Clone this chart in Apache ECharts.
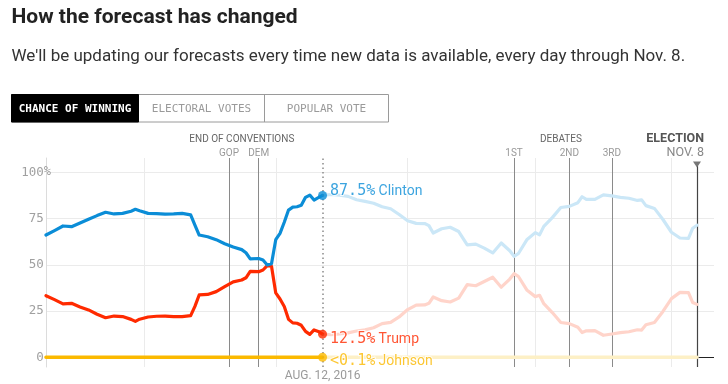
<!DOCTYPE html>
<html><head><meta charset="utf-8">
<script src="https://cdn.jsdelivr.net/npm/echarts@6/dist/echarts.min.js"></script>
<style>html,body{margin:0;padding:0;background:#fff}#c{width:728px;height:384px}</style>
</head><body><div id="c"></div>
<script>
// ---------- data ----------
const dates = [
  '2016-06-08','2016-06-10','2016-06-12','2016-06-14','2016-06-16','2016-06-18','2016-06-20','2016-06-22','2016-06-24','2016-06-26','2016-06-28','2016-06-29','2016-06-30',
  '2016-07-02','2016-07-04','2016-07-06','2016-07-08','2016-07-10','2016-07-12','2016-07-13','2016-07-14','2016-07-16','2016-07-18','2016-07-20','2016-07-22','2016-07-24','2016-07-25','2016-07-26','2016-07-28','2016-07-29','2016-07-30','2016-07-31',
  '2016-08-01','2016-08-02','2016-08-03','2016-08-04','2016-08-05','2016-08-06','2016-08-07','2016-08-08','2016-08-09','2016-08-10','2016-08-11','2016-08-12','2016-08-14','2016-08-16','2016-08-18','2016-08-20','2016-08-22','2016-08-24','2016-08-26','2016-08-28','2016-08-30',
  '2016-09-01','2016-09-03','2016-09-05','2016-09-06','2016-09-07','2016-09-09','2016-09-11','2016-09-13','2016-09-15','2016-09-17','2016-09-19','2016-09-21','2016-09-23','2016-09-25','2016-09-26','2016-09-27','2016-09-29',
  '2016-10-01','2016-10-02','2016-10-03','2016-10-05','2016-10-07','2016-10-09','2016-10-11','2016-10-12','2016-10-13','2016-10-15','2016-10-17','2016-10-19','2016-10-21','2016-10-23','2016-10-25','2016-10-26','2016-10-27','2016-10-29','2016-10-31',
  '2016-11-02','2016-11-04','2016-11-06','2016-11-07','2016-11-08'
];
const clinton = [
  66.1, 68.5, 71.0, 70.6, 72.6, 74.6, 76.6, 78.4, 77.5, 77.8, 79.0, 80.0, 79.2,
  77.8, 77.7, 77.4, 77.5, 77.8, 77.0, 71.5, 66.1, 65.2, 63.6, 61.4, 59.6, 58.2, 56.5, 53.2, 53.4, 52.6, 49.9, 50.6,
  63.6, 67.0, 73.0, 79.6, 81.2, 81.4, 82.2, 86.5, 87.7, 85.0, 86.3, 87.5, 88.0, 87.6, 87.0, 85.2, 84.3, 83.3, 81.4, 80.3, 77.2,
  73.8, 72.4, 72.3, 71.2, 67.2, 69.5, 70.3, 68.0, 60.8, 61.2, 59.0, 56.4, 61.8, 57.6, 54.6, 56.0, 63.5,
  67.4, 66.2, 70.8, 75.5, 81.0, 81.6, 83.6, 86.8, 85.4, 85.4, 87.8, 87.3, 86.5, 86.0, 84.8, 85.1, 82.0, 80.5, 74.5,
  67.6, 64.5, 64.3, 69.8, 71.4
];
const trump = [
  33.3, 31.2, 28.9, 29.2, 27.2, 25.6, 23.3, 21.4, 22.3, 22.0, 20.5, 19.4, 20.6,
  21.8, 22.2, 22.3, 22.0, 22.0, 22.5, 27.5, 33.7, 34.0, 35.5, 38.2, 40.8, 41.8, 43.0, 46.5, 46.3, 47.2, 49.6, 49.2,
  34.8, 31.5, 27.5, 20.5, 18.6, 18.4, 17.3, 14.0, 12.4, 14.8, 14.0, 12.5, 12.2, 12.6, 13.2, 14.2, 14.8, 16.0, 18.2, 18.9, 21.8,
  25.8, 28.2, 28.3, 29.2, 32.6, 30.6, 29.9, 32.0, 39.3, 38.7, 41.0, 43.3, 37.9, 42.3, 45.2, 43.8, 36.4,
  32.8, 33.5, 29.0, 24.2, 18.8, 18.2, 16.2, 13.4, 14.3, 14.4, 11.9, 12.6, 13.3, 13.8, 14.9, 14.7, 17.6, 18.8, 24.8,
  31.7, 35.1, 35.0, 29.6, 28.6
];
const johnsonDates = ['2016-06-08','2016-07-14','2016-08-12','2016-09-15','2016-10-15','2016-11-08'];
const johnson = [0.02, 0.04, 0.02, 0.01, 0.01, 0.01];

const candidates = ['Clinton', 'Trump', 'Johnson'];
const yTicks = [0, 25, 50, 75, 100];
const asOf = '2016-08-12';
const asOfLabel = 'AUG. 12, 2016';
const conventions = [{name: 'GOP', date: '2016-07-21'}, {name: 'DEM', date: '2016-07-28'}];
const debates = [{name: '1ST', date: '2016-09-26'}, {name: '2ND', date: '2016-10-09'}, {name: '3RD', date: '2016-10-19'}];
const monthLines = ['2016-07-01', '2016-08-01', '2016-09-01', '2016-10-01', '2016-11-02'];
const election = '2016-11-08';
const xStart = '2016-06-08', xEnd = '2016-11-12';
const tabs = ['CHANCE OF WINNING', 'ELECTORAL VOTES', 'POPULAR VOTE'];
const titleText = 'How the forecast has changed';
const subtitleText = "We'll be updating our forecasts every time new data is available, every day through Nov. 8.";

// ---------- styling ----------
const yMin = -5.25, yMax = 107.75;
const C = {clinton: '#0b8dd7', trump: '#ff2a00', johnson: '#fbb900'};
const F = {clinton: '#cbe7f7', trump: '#ffd4ca', johnson: '#fdf0c6'};
const MONO = '"DejaVu Sans Mono", monospace';
const SANS = 'Roboto, "Noto Sans", sans-serif';

const ts = s => +new Date(s + 'T00:00:00');
const asOfT = ts(asOf);
function split(ds, vs) {
  const solid = [], faded = [];
  ds.forEach((d, i) => {
    const t = ts(d);
    if (t <= asOfT) solid.push([t, vs[i]]);
    if (t >= asOfT) faded.push([t, vs[i]]);
  });
  return {solid, faded};
}
const cS = split(dates, clinton), tS = split(dates, trump), jS = split(johnsonDates, johnson);
const valAt = (ds, vs) => vs[ds.indexOf(asOf)];

function lineSeries(name, data, color, z, w) {
  return {type: 'line', name, data, showSymbol: false, symbol: 'none', z, silent: true,
    lineStyle: {color, width: w || 3.2, cap: 'round', join: 'round'}, emphasis: {disabled: true}};
}

const eventLine = (e) => ({
  xAxis: ts(e.date),
  lineStyle: {color: '#8a8a8a', width: 1, type: 'solid'},
  label: {show: true, position: 'end', formatter: e.name, color: '#999', fontSize: 10, fontFamily: SANS, distance: 0}
});

const gridLines = [
  ...yTicks.filter(v => v !== 0).map(v => ({yAxis: v, lineStyle: {color: '#ebebeb', width: 1, type: 'solid'}})),
  ...monthLines.map(d => ({xAxis: ts(d), lineStyle: {color: '#ebebeb', width: 1, type: 'solid'}})),
  {yAxis: 0, lineStyle: {color: '#222', width: 1, type: 'solid'}}
];
const eventLines = [
  ...conventions.map(eventLine),
  ...debates.map(eventLine),
  [{coord: [ts(election), 103.3], lineStyle: {color: '#444', width: 1.2, type: 'solid'}}, {coord: [ts(election), yMin]}]
];
const asOfLine = [
  {xAxis: asOfT, lineStyle: {color: '#8a8a8a', width: 1.5, type: [1.5, 3]},
   label: {show: true, position: 'start', formatter: asOfLabel, color: '#9a9a9a', fontSize: 12, fontFamily: SANS, distance: 3}}
];

const endVals = [valAt(dates, clinton), valAt(dates, trump), valAt(johnsonDates, johnson)];
const endColors = [C.clinton, C.trump, C.johnson];
const endOffsets = [[0, -4], [0, 5], [0, 4]];
const fmtPct = v => v < 0.1 ? '<0.1%' : v.toFixed(1) + '%';
const dotData = candidates.map((name, i) => ({
  value: [asOfT, endVals[i]],
  itemStyle: {color: endColors[i]},
  label: {
    show: true, position: 'right', distance: 3, offset: endOffsets[i],
    formatter: '{n|' + fmtPct(endVals[i]) + '} {t|' + name + '}',
    rich: {
      n: {fontFamily: MONO, fontSize: 15, color: endColors[i], textBorderColor: '#fff', textBorderWidth: 2},
      t: {fontFamily: SANS, fontSize: 14, color: endColors[i], textBorderColor: '#fff', textBorderWidth: 2}
    }
  }
}));

const frameSeries = (name, lines, z) => ({type: 'line', name, data: [], z, silent: true,
  markLine: {silent: true, z, symbol: ['none', 'none'], animation: false, label: {show: false}, data: lines}});

const option = {
  animation: false,
  backgroundColor: '#fff',
  grid: {left: 46, right: 14, top: 158, bottom: 17},
  xAxis: {type: 'time', min: ts(xStart), max: ts(xEnd),
    axisLine: {show: false}, axisTick: {show: false}, axisLabel: {show: false}, splitLine: {show: false}},
  yAxis: {type: 'value', min: yMin, max: yMax,
    axisLine: {show: true, lineStyle: {color: '#dcdcdc', width: 1}},
    axisTick: {show: false}, splitLine: {show: false},
    axisLabel: {
      customValues: yTicks, margin: -5,
      formatter: v => v === 100 ? '{n|' + v + '}{p|%}' : '{n|' + v + '}{h|%}',
      rich: {
        n: {fontFamily: MONO, fontSize: 12.5, color: '#a0a0a0'},
        p: {fontFamily: MONO, fontSize: 12, color: '#a0a0a0'},
        h: {fontFamily: MONO, fontSize: 12, color: 'rgba(0,0,0,0)'}
      }
    }
  },
  series: [
    frameSeries('grid', gridLines, 0),
    frameSeries('events', eventLines, 1),
    lineSeries('Johnson later', jS.faded, F.johnson, 2, 3.6),
    lineSeries('Trump later', tS.faded, F.trump, 2),
    lineSeries('Clinton later', cS.faded, F.clinton, 2),
    lineSeries('Johnson', jS.solid, C.johnson, 3, 3.6),
    lineSeries('Trump', tS.solid, C.trump, 3),
    lineSeries('Clinton', cS.solid, C.clinton, 4),
    frameSeries('as of', asOfLine, 5),
    {type: 'scatter', name: 'now', data: dotData, symbol: 'circle', symbolSize: 9, z: 6, silent: true},
    {type: 'scatter', name: 'election', data: [[ts(election), 104.3]], symbol: 'triangle', symbolRotate: 180,
     symbolSize: [8, 6], itemStyle: {color: '#555'}, z: 6, silent: true}
  ]
};

const chart = echarts.init(document.getElementById('c'));
chart.setOption(option);

const px = d => chart.convertToPixel({gridIndex: 0}, [ts(d), 0])[0];
const convMid = (px(conventions[0].date) + px(conventions[1].date)) / 2 - 2;
const debMid = (px(debates[0].date) + px(debates[2].date)) / 2 - 2;
const elX = px(election) + 7;

const tabX = [11.5, 138.5, 264.5, 388.5];
const graphics = [
  {type: 'text', x: 11.5, y: 17.5, style: {text: titleText, font: 'bold 21px ' + SANS, fill: '#222', verticalAlign: 'middle'}},
  {type: 'text', x: 11.5, y: 56.5, style: {text: subtitleText, font: '17px ' + SANS, fill: '#333', verticalAlign: 'middle'}},
  {type: 'rect', shape: {x: tabX[0], y: 94.5, width: tabX[3] - tabX[0], height: 27.5}, style: {fill: '#fff', stroke: '#9a9a9a', lineWidth: 1}},
  {type: 'rect', shape: {x: tabX[0], y: 94.5, width: tabX[1] - tabX[0], height: 27.5}, style: {fill: '#000', stroke: '#000', lineWidth: 1}},
  {type: 'line', shape: {x1: tabX[2], y1: 94.5, x2: tabX[2], y2: 122}, style: {stroke: '#9a9a9a', lineWidth: 1}},
  ...tabs.map((t, i) => ({type: 'text', x: (tabX[i] + tabX[i + 1]) / 2, y: 108.8,
    style: {text: t, font: (i === 0 ? 'bold ' : '') + '11px ' + MONO, fill: i === 0 ? '#fff' : '#9a9a9a', align: 'center', verticalAlign: 'middle'}})),
  {type: 'text', x: convMid, y: 139.5, style: {text: 'END OF CONVENTIONS', font: '10px ' + SANS, fill: '#666', align: 'center', verticalAlign: 'middle'}},
  {type: 'text', x: debMid, y: 139.5, style: {text: 'DEBATES', font: '10px ' + SANS, fill: '#666', align: 'center', verticalAlign: 'middle'}},
  {type: 'text', x: elX, y: 138.5, style: {text: 'ELECTION', font: 'bold 12.5px ' + SANS, fill: '#555', align: 'right', verticalAlign: 'middle'}},
  {type: 'text', x: elX, y: 152.5, style: {text: 'NOV. 8', font: '12.5px ' + SANS, fill: '#888', align: 'right', verticalAlign: 'middle'}}
];
chart.setOption({graphic: graphics});
</script>
</body></html>
